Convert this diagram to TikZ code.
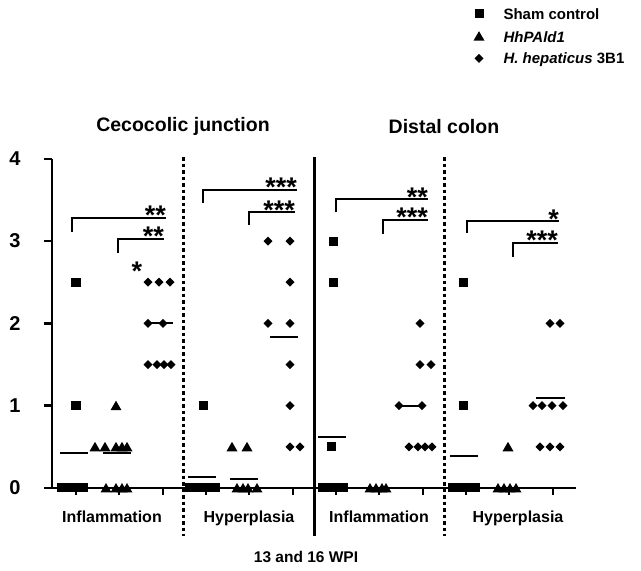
\documentclass[tikz,border=0pt]{standalone}
\usepackage{fontspec}
\setmainfont{Liberation Sans}

\begin{document}
\begin{tikzpicture}[x=1pt,y=82.3pt,
  ticklab/.style={font=\bfseries\fontsize{20}{22}\selectfont},
  grouptitle/.style={font=\bfseries\fontsize{19.5}{22}\selectfont},
  catlab/.style={font=\bfseries\fontsize{16}{18}\selectfont, anchor=base},
  legtext/.style={font=\bfseries\fontsize{15}{17}\selectfont, anchor=base west},
  stars/.style={font=\bfseries\fontsize{27}{27}\selectfont, anchor=south east, inner sep=0pt, yshift=1pt},
  axis/.style={line width=2.4pt},
  bracket/.style={line width=2pt},
  mean/.style={line width=2pt},
  divider/.style={line width=3pt, dash pattern=on 3.5pt off 3pt}]
  \useasboundingbox (-52,-1.0085) rectangle (589,5.9295);

  % Axes
  \draw[axis] (0,4) -- (0,0) -- (524,0);
  \foreach \v in {0,...,4} {
    \draw[axis] (-8,\v) -- (0,\v);
    \node[ticklab] (ytick\v) at (-37,\v) {\v};
  }
  \foreach \x in {24,67,111,154,197,241,284,327,371,414,457,501}
    \draw[axis] (\x,0) -- ++(0,-7pt);

  % Dividers
  \draw[divider] (131.5,4.02) -- (131.5,-0.58);
  \draw[line width=3pt] (262.5,4.02) -- (262.5,-0.58);
  \draw[divider] (392.5,4.02) -- (392.5,-0.58);

  % Titles and axis labels
  \node[grouptitle] (cecum) at (131,4.39) {Cecocolic junction};
  \node[grouptitle] (distal) at (392,4.39) {Distal colon};
  \node[catlab] (inflA) at (60,-0.415) {Inflammation};
  \node[catlab] (hypA) at (197,-0.415) {Hyperplasia};
  \node[catlab] (inflB) at (327,-0.415) {Inflammation};
  \node[catlab] (hypB) at (466,-0.415) {Hyperplasia};
  \node[catlab, font=\bfseries\fontsize{15.5}{18}\selectfont] (wpi) at (254,-0.9) {13 and 16 WPI};

  % Sham control
  \foreach \x/\y in {24/2.5, 24/1, 9.5/0, 15/0, 20.5/0, 26/0, 31.5/0,
      151/1, 137.5/0, 144/0, 150.5/0, 157/0, 163.5/0,
      281/3, 281/2.5, 279/0.5, 270.5/0, 276/0, 281/0, 286/0, 291.5/0,
      411/2.5, 411/1, 400.5/0, 406/0, 412/0, 418/0, 423.5/0}
    \fill (\x,\y) ++(-4.5pt,-4.5pt) rectangle ++(9pt,9pt);

  % HhPAld1
  \foreach \x/\y in {64/1, 43/0.5, 53/0.5, 64/0.5, 70/0.5, 75/0.5, 54/0, 64/0, 70/0, 75/0,
      180/0.5, 195/0.5, 185/0, 191/0, 196/0, 205/0,
      318/0, 324/0, 330/0, 334/0,
      456/0.5, 446/0, 452/0, 458/0, 464/0}
    \fill (\x,\y) ++(0,5pt) -- ++(-5.5pt,-9.5pt) -- ++(11pt,0) -- cycle;

  % H. hepaticus 3B1
  \foreach \x/\y in {96/2.5, 107/2.5, 118/2.5, 96/2, 111/2, 96/1.5, 105/1.5, 112/1.5, 119/1.5,
      216/3, 238/3, 238/2.5, 216/2, 238/2, 238/1.5, 238/1, 238/0.5, 248/0.5,
      368/2, 368/1.5, 379/1.5, 347/1, 370/1, 357/0.5, 366/0.5, 373/0.5, 380/0.5,
      498/2, 508/2, 481/1, 490/1, 500/1, 511/1, 488/0.5, 498/0.5, 508/0.5}
    \fill (\x,\y) ++(0,4.5pt) -- ++(4.5pt,-4.5pt) -- ++(-4.5pt,-4.5pt) -- ++(-4.5pt,4.5pt) -- cycle;

  % Means
  \draw[mean] (8,0.43) -- (36,0.43);
  \draw[mean] (51,0.43) -- (79,0.43);
  \draw[mean] (93,2) -- (121,2);
  \draw[mean] (136,0.13) -- (164,0.13);
  \draw[mean] (178,0.11) -- (206,0.11);
  \draw[mean] (218,1.84) -- (246,1.84);
  \draw[mean] (266,0.62) -- (294,0.62);
  \draw[mean] (347,1) -- (370,1);
  \draw[mean] (398,0.39) -- (426,0.39);
  \draw[mean] (484,1.09) -- (513,1.09);

  % Significance
  \draw[bracket] (20,3.11) |- (114,3.28);
  \draw[bracket] (66,2.86) |- (112,3.03);
  \draw[bracket] (151,3.46) |- (245,3.62);
  \draw[bracket] (197,3.20) |- (243,3.35);
  \draw[bracket] (284,3.35) |- (376,3.51);
  \draw[bracket] (331,3.09) |- (376,3.26);
  \draw[bracket] (415,3.10) |- (507,3.24);
  \draw[bracket] (461,2.81) |- (506,2.98);
  \node[stars] (star1) at (114,3.28) {\raisebox{-0.3em}[0.4em][0pt]{**}};
  \node[stars] (star2) at (112,3.03) {\raisebox{-0.3em}[0.4em][0pt]{**}};
  \node[stars, anchor=center, yshift=-1pt] (star0) at (85,2.69) {\raisebox{-0.3em}[0.4em][0pt]{*}};
  \node[stars] (star3) at (245,3.62) {\raisebox{-0.3em}[0.4em][0pt]{***}};
  \node[stars] (star4) at (243,3.35) {\raisebox{-0.3em}[0.4em][0pt]{***}};
  \node[stars] (star5) at (376,3.51) {\raisebox{-0.3em}[0.4em][0pt]{**}};
  \node[stars] (star6) at (376,3.26) {\raisebox{-0.3em}[0.4em][0pt]{***}};
  \node[stars] (star7) at (507,3.24) {\raisebox{-0.3em}[0.4em][0pt]{*}};
  \node[stars] (star8) at (506,2.98) {\raisebox{-0.3em}[0.4em][0pt]{***}};

  % Legend
  \fill (427,5.76) ++(-4.5pt,-4.5pt) rectangle ++(9pt,9pt);
  \fill (427,5.49) ++(0,5pt) -- ++(-5.5pt,-9.5pt) -- ++(11pt,0) -- cycle;
  \fill (427,5.22) ++(0,4.5pt) -- ++(4.5pt,-4.5pt) -- ++(-4.5pt,-4.5pt) -- ++(-4.5pt,4.5pt) -- cycle;
  \node[legtext] (legsham) at (448,5.687) {Sham control};
  \node[legtext] (legmut) at (448,5.419) {\itshape HhPAld1};
  \node[legtext] (legwt) at (448,5.152) {\itshape H. hepaticus\/\upshape\ 3B1};
\end{tikzpicture}
\end{document}
